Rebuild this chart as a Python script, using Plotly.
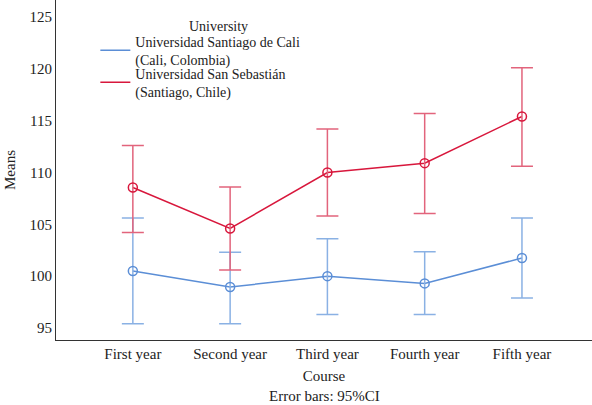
import plotly.graph_objects as go

courses = ["First year", "Second year", "Third year", "Fourth year", "Fifth year"]

# Universidad Santiago de Cali (Cali, Colombia)
cali_mean = [100.5, 98.95, 100.0, 99.3, 101.75]
cali_upper = [105.6, 102.3, 103.6, 102.35, 105.6]
cali_lower = [95.4, 95.4, 96.3, 96.3, 97.9]

# Universidad San Sebastián (Santiago, Chile)
uss_mean = [108.55, 104.6, 110.0, 110.9, 115.4]
uss_upper = [112.6, 108.6, 114.2, 115.7, 120.1]
uss_lower = [104.2, 100.6, 105.8, 106.05, 110.6]

FONT = "Liberation Serif, serif"
TXT = "#222"
BLUE = "#5b8ed6"
BLUE_ERR = "#8ab1e4"
RED = "#d8173c"
RED_ERR = "#e2647c"

x = list(range(len(courses)))


def add_series(fig, name, mean, upper, lower, color, err_color, legend):
    # line trace carries the legend entry (line swatch only)
    fig.add_trace(go.Scatter(
        x=x, y=mean, name=name, mode="lines",
        line=dict(color=color, width=1.5),
        legend=legend,
    ))
    # open circle markers with 95% CI error bars
    fig.add_trace(go.Scatter(
        x=x, y=mean, name=name, mode="markers", showlegend=False,
        marker=dict(symbol="circle-open", size=9, color=color, line=dict(width=1.5)),
        error_y=dict(
            type="data",
            symmetric=False,
            array=[u - m for u, m in zip(upper, mean)],
            arrayminus=[m - l for m, l in zip(mean, lower)],
            color=err_color,
            thickness=1.5,
            width=11,
        ),
    ))


fig = go.Figure()
add_series(fig, "Universidad Santiago de Cali<br>(Cali, Colombia)",
           cali_mean, cali_upper, cali_lower, BLUE, BLUE_ERR, "legend")
add_series(fig, "Universidad San Sebastián<br>(Santiago, Chile)",
           uss_mean, uss_upper, uss_lower, RED, RED_ERR, "legend2")

legend_common = dict(
    xanchor="left",
    yanchor="top",
    bgcolor="rgba(0,0,0,0)",
    font=dict(family=FONT, size=14, color=TXT),
    itemwidth=30,
    tracegroupgap=0,
)

fig.update_layout(
    width=592,
    height=405,
    margin=dict(l=56, r=0, t=0, b=65),
    paper_bgcolor="white",
    plot_bgcolor="white",
    font=dict(family=FONT, size=14, color=TXT),
    showlegend=True,
    legend=dict(x=0.0734, y=1 - 25.5 / 340, **legend_common),
    legend2=dict(x=0.0734, y=1 - 57.5 / 340, **legend_common),
    xaxis=dict(
        range=[-0.79, 4.72],
        tickmode="array",
        tickvals=x,
        ticktext=courses,
        tickfont=dict(family=FONT, size=15, color=TXT),
        showgrid=False,
        zeroline=False,
        showline=True,
        linecolor="#333",
        linewidth=1,
        ticks="",
        title=dict(text="Course", standoff=9,
                   font=dict(family=FONT, size=15, color=TXT)),
    ),
    yaxis=dict(
        range=[93.84, 126.64],
        tickvals=[95, 100, 105, 110, 115, 120, 125],
        tickfont=dict(family=FONT, size=15, color=TXT),
        showgrid=False,
        zeroline=False,
        showline=True,
        linecolor="#333",
        linewidth=1,
        ticks="",
        title=dict(text="Means", standoff=10,
                   font=dict(family=FONT, size=15, color=TXT)),
    ),
    annotations=[
        # legend heading
        dict(
            text="University",
            xref="paper", yref="paper",
            x=(218 - 56) / 536, y=1 - 27 / 340,
            xanchor="center", yanchor="middle",
            showarrow=False,
            font=dict(family=FONT, size=14, color=TXT),
        ),
        dict(
            text="Error bars: 95%CI",
            xref="paper", yref="paper",
            x=0.5, y=-(396 - 340) / 340,
            xanchor="center", yanchor="middle",
            showarrow=False,
            font=dict(family=FONT, size=15, color=TXT),
        ),
    ],
)

fig.write_html("out.html")
